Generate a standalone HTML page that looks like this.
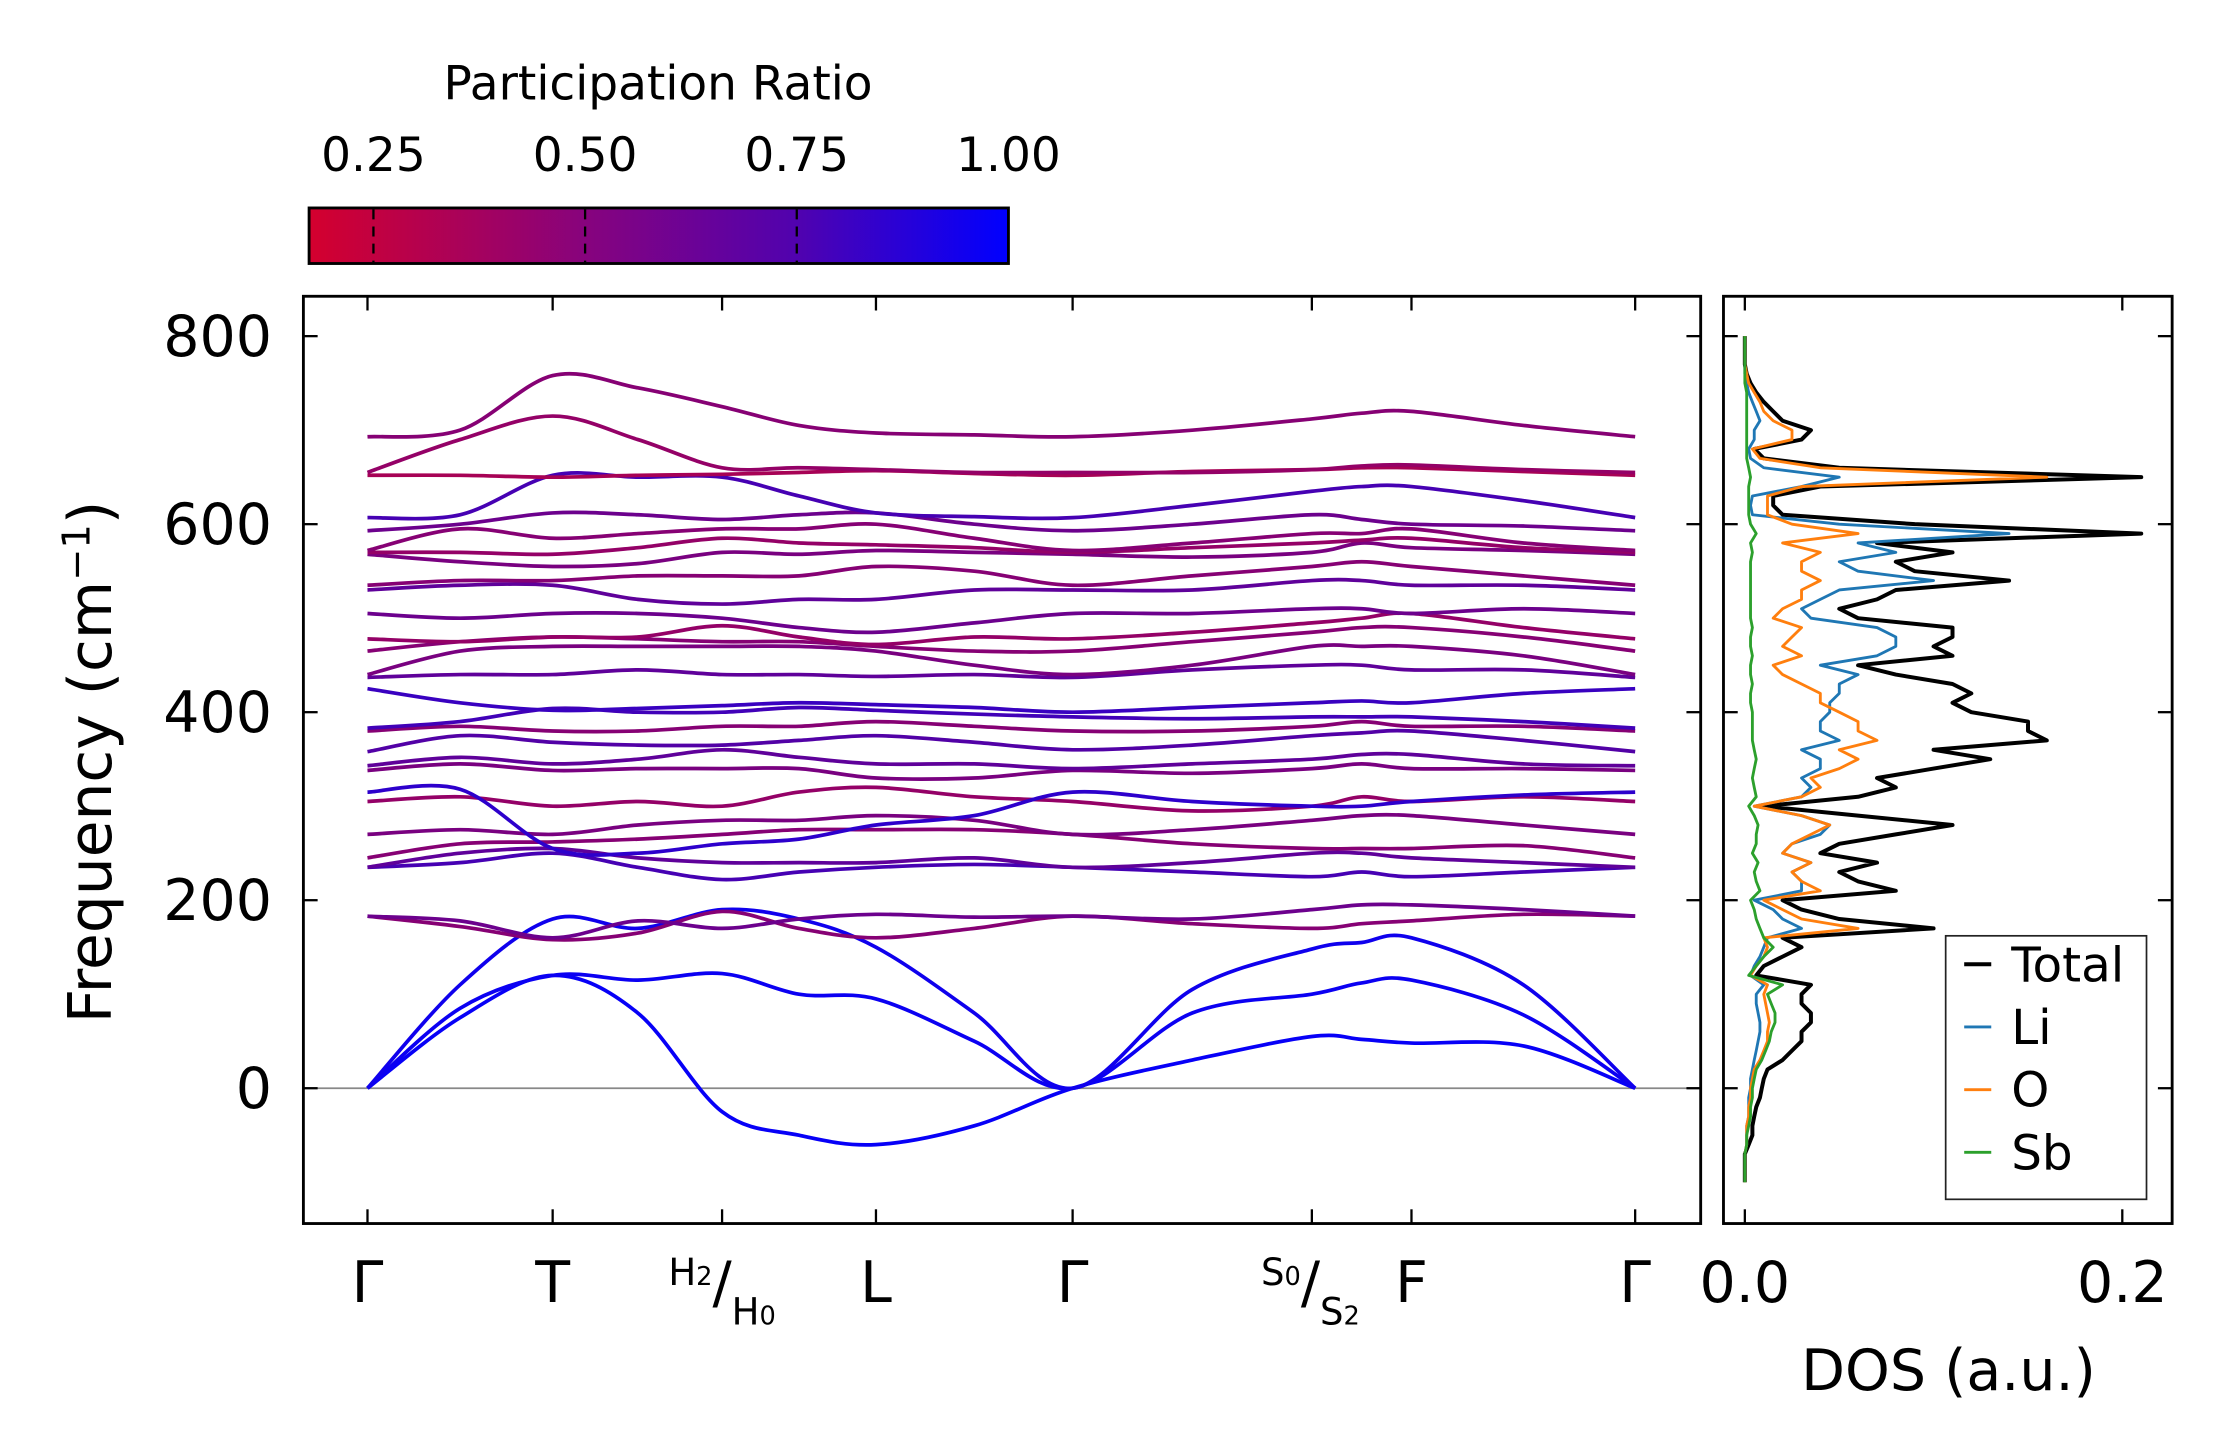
<!DOCTYPE html>
<html><head><meta charset="utf-8"><style>
html,body{margin:0;padding:0;background:#fff;}
svg{display:block;font-family:"DejaVu Sans","Liberation Sans",sans-serif;}
</style></head><body>
<svg id="fig" width="2222" height="1455" viewBox="0 0 1560 1021.5" preserveAspectRatio="none" xmlns="http://www.w3.org/2000/svg">
<defs>
<linearGradient id="cbgrad" x1="0" x2="1" y1="0" y2="0">
<stop offset="0" stop-color="rgb(212,0,46)"/><stop offset="0.4" stop-color="rgb(134,3,126)"/><stop offset="0.7" stop-color="rgb(80,2,175)"/><stop offset="1" stop-color="rgb(0,0,255)"/>
</linearGradient>
<clipPath id="mainclip"><rect x="213" y="208" width="981" height="651"/></clipPath>
<clipPath id="dosclip"><rect x="1210" y="208" width="315" height="651"/></clipPath>
</defs>
<g id="colorbar">
<text x="462" y="70" font-size="33" text-anchor="middle">Participation Ratio</text>
<rect x="217" y="146" width="491" height="39" fill="url(#cbgrad)" stroke="#000" stroke-width="2"/>
</g>
<g id="main"></g>
<g id="dos"></g>
<text transform="translate(78,535) rotate(-90)" font-size="42" text-anchor="middle">Frequency (cm<tspan dy="-15" font-size="27">−1</tspan><tspan dy="15">)</tspan></text>
<text x="1368" y="976" font-size="40" text-anchor="middle">DOS (a.u.)</text>
</svg>
<script>
// ---- colorbar data ----
const cbTicks = [0.25, 0.50, 0.75, 1.00];
const cbTickLabels = ["0.25", "0.50", "0.75", "1.00"];
// ---- band structure data ----
const kLabels = ["Γ","T","H2/H0","L","Γ","S0/S2","F","Γ"];
const kPath = [0, 1.0, 1.915, 2.746, 3.808, 5.1, 5.638, 6.846];
const kSamples = [0,0.5,1.0,1.46,1.915,2.33,2.746,3.277,3.808,4.454,5.1,5.369,5.638,6.242,6.846];
const yTicks = [0,200,400,600,800];
const bands = [
 [0,75,120,80,-25,-50,-60,-40,0,30,55,52,48,45,0],
 [0,85,120,115,122,100,95,50,0,80,100,112,115,78,0],
 [0,110,180,170,190,180,150,80,0,105,148,155,160,110,0],
 [183,172,158,165,188,170,160,170,183,175,170,175,178,185,183],
 [183,178,160,178,170,180,185,182,183,180,190,195,195,190,183],
 [235,240,250,235,222,230,235,238,235,230,225,230,225,230,235],
 [235,250,255,245,240,240,240,245,235,240,250,250,245,240,235],
 [245,260,262,265,270,275,275,275,270,260,255,255,255,258,245],
 [270,275,270,280,285,285,290,285,270,275,285,290,290,280,270],
 [305,310,300,305,300,315,320,310,305,295,300,310,305,310,305],
 [315,318,255,250,260,265,280,290,315,305,300,300,305,312,315],
 [338,345,338,340,340,340,330,330,338,335,340,345,340,340,338],
 [343,352,345,350,360,352,345,345,340,345,350,355,355,345,343],
 [358,375,368,365,365,370,375,368,360,365,375,378,380,370,358],
 [380,385,380,380,385,385,390,385,380,380,385,390,385,385,380],
 [383,390,404,400,400,405,402,398,395,393,395,395,395,390,383],
 [425,410,402,404,407,410,408,405,400,405,410,412,410,420,425],
 [437,440,440,445,440,440,438,440,437,445,450,450,445,445,437],
 [440,465,470,470,470,470,465,450,440,450,470,470,470,460,440],
 [465,475,480,478,475,475,470,465,465,475,485,490,490,480,465],
 [478,475,480,480,492,480,472,480,478,485,495,500,505,490,478],
 [505,500,505,505,500,490,485,495,505,505,510,510,505,510,505],
 [530,535,535,520,515,520,520,530,530,530,540,540,535,535,530],
 [535,540,540,545,545,545,555,550,535,545,555,560,555,545,535],
 [568,560,555,558,570,568,572,570,568,565,570,580,575,572,568],
 [570,570,568,575,585,580,578,575,570,575,580,583,585,575,570],
 [572,595,585,590,595,595,600,585,572,580,590,590,595,580,572],
 [593,600,612,610,605,610,612,600,593,600,610,605,600,598,593],
 [607,610,652,650,650,630,612,608,607,620,635,640,640,625,607],
 [652,652,650,652,653,655,657,654,652,656,658,660,660,656,652],
 [655,690,715,690,660,660,658,655,655,655,658,662,663,658,655],
 [693,700,758,745,725,705,697,695,693,700,712,718,720,705,693]
];
const bandPR = [0.97,0.95,0.93,0.45,0.55,0.7,0.6,0.45,0.5,0.4,0.8,0.5,0.6,0.65,0.45,0.72,0.75,0.6,0.5,0.45,0.4,0.55,0.6,0.45,0.5,0.4,0.45,0.55,0.7,0.33,0.4,0.45];
// ---- DOS data ----
const dosFreq = []; for (let f=-100; f<=800; f+=10) dosFreq.push(f);
const dosTotal = [0,0,0,0,0.002,0.004,0.004,0.005,0.006,0.008,0.009,0.01,0.012,0.02,0.025,0.03,0.03,0.035,0.035,0.03,0.03,0.035,0.006,0.01,0.02,0.03,0.02,0.1,0.05,0.03,0.02,0.08,0.06,0.05,0.07,0.04,0.05,0.08,0.11,0.06,0.01,0.06,0.08,0.07,0.1,0.13,0.1,0.16,0.15,0.15,0.12,0.11,0.12,0.11,0.08,0.06,0.11,0.1,0.11,0.11,0.06,0.05,0.07,0.08,0.14,0.09,0.08,0.11,0.07,0.21,0.09,0.02,0.015,0.015,0.04,0.21,0.05,0.01,0.005,0.03,0.035,0.02,0.015,0.01,0.006,0.003,0.001,0,0,0,0];
const dosLi = [0,0,0,0,0.001,0.001,0.001,0.002,0.002,0.002,0.003,0.003,0.004,0.005,0.006,0.007,0.008,0.008,0.007,0.006,0.006,0.01,0.003,0.005,0.008,0.01,0.012,0.03,0.02,0.015,0.005,0.03,0.03,0.025,0.035,0.02,0.025,0.04,0.045,0.03,0.005,0.03,0.035,0.03,0.04,0.04,0.03,0.05,0.04,0.04,0.045,0.045,0.05,0.05,0.06,0.04,0.07,0.08,0.08,0.07,0.035,0.03,0.04,0.05,0.1,0.06,0.05,0.08,0.06,0.14,0.05,0.004,0.003,0.004,0.03,0.05,0.01,0.003,0.002,0.005,0.005,0.008,0.006,0.004,0.002,0.001,0,0,0,0,0];
const dosO = [0,0,0,0,0.001,0.001,0.001,0.002,0.002,0.003,0.003,0.004,0.005,0.008,0.01,0.012,0.012,0.013,0.012,0.011,0.01,0.012,0.003,0.006,0.01,0.012,0.01,0.06,0.03,0.02,0.01,0.04,0.03,0.025,0.035,0.02,0.025,0.035,0.045,0.03,0.005,0.03,0.04,0.035,0.05,0.06,0.05,0.07,0.06,0.06,0.05,0.04,0.04,0.03,0.02,0.015,0.03,0.02,0.025,0.03,0.015,0.02,0.03,0.03,0.04,0.03,0.03,0.04,0.02,0.06,0.025,0.012,0.012,0.012,0.03,0.16,0.04,0.008,0.004,0.025,0.025,0.015,0.01,0.008,0.005,0.002,0.001,0,0,0,0];
const dosSb = [0,0,0,0,0.001,0.001,0.002,0.003,0.003,0.004,0.004,0.005,0.006,0.009,0.011,0.013,0.014,0.016,0.016,0.014,0.012,0.02,0.002,0.006,0.01,0.015,0.01,0.008,0.006,0.005,0.003,0.008,0.006,0.005,0.007,0.004,0.006,0.006,0.007,0.005,0.002,0.006,0.005,0.004,0.005,0.006,0.005,0.004,0.004,0.004,0.004,0.003,0.003,0.004,0.003,0.003,0.004,0.003,0.003,0.004,0.003,0.003,0.003,0.003,0.003,0.003,0.003,0.004,0.003,0.006,0.003,0.002,0.002,0.002,0.002,0.003,0.002,0.001,0.001,0.001,0.001,0.001,0.001,0.001,0.001,0,0,0,0,0,0];
const dosXTicks = [0.0, 0.2];
const dosSeriesNames = ["Total","Li","O","Sb"];
const dosColors = ["#000000","#1f77b4","#ff7f0e","#2ca02c"];

const NS = "http://www.w3.org/2000/svg";
function mk(tag, attrs, parent){ const e=document.createElementNS(NS,tag); for(const k in attrs) e.setAttribute(k,attrs[k]); parent.appendChild(e); return e; }

const yPx = v => 764 - v*0.66;
const kPx = k => 258 + (k/kPath[kPath.length-1])*(1148-258);
const dosPx = v => 1225 + v*1325;
const cbPx = v => 217 + (v-0.174)/(1-0.174)*491;
function prColor(p){ const t=Math.max(0,Math.min(1,(p-0.174)/(1-0.174)));
  const r=Math.round(212*(1-t)*(1-0.15*t)), g=Math.round(2*(1-t)), b=Math.round(46+(255-46)*t);
  return `rgb(${r},${g},${b})`; }
function smoothPath(pts){ let d=`M${pts[0][0]},${pts[0][1]}`;
  for(let i=0;i<pts.length-1;i++){ const p0=pts[Math.max(0,i-1)],p1=pts[i],p2=pts[i+1],p3=pts[Math.min(pts.length-1,i+2)];
    const c1=[p1[0]+(p2[0]-p0[0])/6,p1[1]+(p2[1]-p0[1])/6], c2=[p2[0]-(p3[0]-p1[0])/6,p2[1]-(p3[1]-p1[1])/6];
    d+=` C${c1[0].toFixed(1)},${c1[1].toFixed(1)} ${c2[0].toFixed(1)},${c2[1].toFixed(1)} ${p2[0].toFixed(1)},${p2[1].toFixed(1)}`; }
  return d; }

const cb=document.getElementById('colorbar');
cbTicks.forEach((v,i)=>{ const x=cbPx(v);
  if(v<1){ const t=mk('line',{x1:x,x2:x,y1:147,y2:184,stroke:'#000','stroke-width':1.6,'stroke-dasharray':'7,5'},cb);
  
   }
  const l=mk('text',{x:x,y:120,'font-size':33,'text-anchor':'middle'},cb); l.textContent=cbTickLabels[i];
  
  
});

const main=document.getElementById('main');
const zl=mk('line',{x1:213,x2:1194,y1:yPx(0),y2:yPx(0),stroke:'#888','stroke-width':1.2},main);


const bg=mk('g',{'clip-path':'url(#mainclip)'},main);
bands.forEach((b,i)=>{ const pts=b.map((v,j)=>[kPx(kSamples[j]),yPx(v)]);
  const p=mk('path',{d:smoothPath(pts),fill:'none',stroke:prColor(bandPR[i]),'stroke-width':2.6},bg);
  
  
});
const fr=mk('rect',{x:213,y:208,width:981,height:651,fill:'none',stroke:'#000','stroke-width':2},main);


yTicks.forEach(v=>{ const y=yPx(v);
  mk('line',{x1:213,x2:223,y1:y,y2:y,stroke:'#000','stroke-width':1.6},main);
  mk('line',{x1:1184,x2:1194,y1:y,y2:y,stroke:'#000','stroke-width':1.6},main);
  const t=mk('text',{x:191,y:y+14,'font-size':40,'text-anchor':'end'},main); t.textContent=String(v);
  
  
});
kPath.forEach((k,i)=>{ const x=kPx(k);
  mk('line',{x1:x,x2:x,y1:208,y2:218,stroke:'#000','stroke-width':1.6},main);
  mk('line',{x1:x,x2:x,y1:849,y2:859,stroke:'#000','stroke-width':1.6},main);
  const lab=kLabels[i];
  const t=mk('text',{x:x,y:914,'font-size':40,'text-anchor':'middle'},main);
  
  
  if(lab.includes('/')){ const [a,b]=lab.split('/');
    t.setAttribute('x',x);
    t.innerHTML=`<tspan font-size="26" dy="-12">${a[0]}<tspan font-size="18">${a[1]}</tspan></tspan><tspan dy="12">/</tspan><tspan font-size="26" dy="16">${b[0]}<tspan font-size="18">${b[1]}</tspan></tspan>`;
    if(lab[0]==='S') t.setAttribute('x', x-1);
  } else t.textContent=lab;
});

const dos=document.getElementById('dos');
const dg=mk('g',{'clip-path':'url(#dosclip)'},dos);
const series=[dosTotal,dosLi,dosO,dosSb];
[0,1,2,3].forEach(si=>{ const arr=series[si];
  const pts=arr.map((v,j)=>`${dosPx(v).toFixed(1)},${yPx(dosFreq[j]).toFixed(1)}`).join(' ');
  const pl=mk('polyline',{points:pts,fill:'none',stroke:dosColors[si],'stroke-width':si===0?2.8:2,'stroke-linejoin':'round'},dg);
  
  
});
const df=mk('rect',{x:1210,y:208,width:315,height:651,fill:'none',stroke:'#000','stroke-width':2},dos);


yTicks.forEach(v=>{ const y=yPx(v);
  mk('line',{x1:1210,x2:1220,y1:y,y2:y,stroke:'#000','stroke-width':1.6},dos);
  mk('line',{x1:1515,x2:1525,y1:y,y2:y,stroke:'#000','stroke-width':1.6},dos);
});
dosXTicks.forEach(v=>{ const x=dosPx(v);
  mk('line',{x1:x,x2:x,y1:208,y2:218,stroke:'#000','stroke-width':1.6},dos);
  mk('line',{x1:x,x2:x,y1:849,y2:859,stroke:'#000','stroke-width':1.6},dos);
  const t=mk('text',{x:x,y:914,'font-size':40,'text-anchor':'middle'},dos); t.textContent=v.toFixed(1);
  
  
});
const lg=mk('g',{},dos);


mk('rect',{x:1366,y:657,width:141,height:185,fill:'#fff',stroke:'#222','stroke-width':1.2},lg);
dosSeriesNames.forEach((n,i)=>{ const y=677+i*44;
  mk('line',{x1:1379,x2:1398,y1:y,y2:y,stroke:dosColors[i],'stroke-width':i===0?2.8:2},lg);
  const t=mk('text',{x:1412,y:y+12,'font-size':34},lg); t.textContent=n;
  
  
});
</script>
</body></html>
